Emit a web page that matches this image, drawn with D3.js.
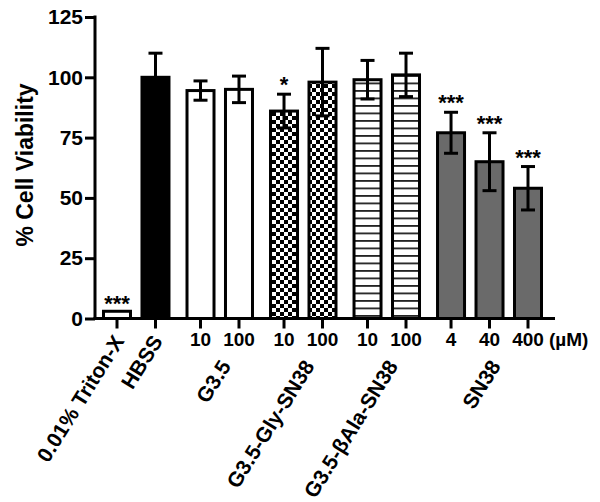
<!DOCTYPE html>
<html>
<head>
<meta charset="utf-8">
<script src="https://cdn.jsdelivr.net/npm/d3@7"></script>
<style>
  body { margin: 0; background: #fff; }
  text { font-family: "Liberation Sans", Arial, Helvetica, sans-serif; font-weight: bold; }
</style>
</head>
<body>
<script>
var width = 600,
    height = 502;

// data
var groups = ["0.01% Triton-X", "HBSS", "G3.5", "G3.5-Gly-SN38", "G3.5-\u03B2Ala-SN38", "SN38"];
var barGroup = [0, 1, 2, 2, 3, 3, 4, 4, 5, 5, 5];
var gapIndex = [0, 0, 1, 1, 2, 2, 3, 3, 4, 4, 4];
var doses = ["", "", "10", "100", "10", "100", "10", "100", "4", "40", "400"];
var means = [3, 100, 94.5, 95, 86, 98, 99, 101, 77, 65, 54];
var errs = [0, 10, 4, 5.5, 7, 14, 8, 9, 8.5, 12, 9];
var stars = ["***", "", "", "", "*", "", "", "", "***", "***", "***"];
var fills = ["white", "black", "white", "white", "url(#checker)", "url(#checker)", "url(#hlines)", "url(#hlines)", "#6a6a6a", "#6a6a6a", "#6a6a6a"];
var yTicks = [0, 25, 50, 75, 100, 125];

var svg = d3.select("body").append("svg")
    .attr("width", width)
    .attr("height", height);

var defs = svg.append("defs");

// checkerboard for the Gly conjugate
var chk = defs.append("pattern")
    .attr("id", "checker")
    .attr("patternUnits", "userSpaceOnUse")
    .attr("width", 8).attr("height", 8);
chk.append("rect").attr("width", 8).attr("height", 8).attr("fill", "white");
chk.append("rect").attr("width", 4).attr("height", 4).attr("fill", "black");
chk.append("rect").attr("x", 4).attr("y", 4).attr("width", 4).attr("height", 4).attr("fill", "black");

// horizontal stripes for the bAla conjugate
var hl = defs.append("pattern")
    .attr("id", "hlines")
    .attr("patternUnits", "userSpaceOnUse")
    .attr("width", 8).attr("height", 7.5);
hl.append("rect").attr("width", 8).attr("height", 7.5).attr("fill", "white");
hl.append("rect").attr("y", 0).attr("width", 8).attr("height", 1.8).attr("fill", "#222");

var y = d3.scaleLinear()
    .domain([0, 125])
    .range([318.5, 17]);

var slot = means.map(function(d, i) { return i + 0.17 * gapIndex[i]; });
var x = d3.scaleLinear()
    .domain([0, slot[slot.length - 1]])
    .range([117, 528]);

var barW = 27;

// bars
svg.selectAll(".bar")
    .data(means)
    .enter().append("rect")
    .attr("class", "bar")
    .attr("x", function(d, i) { return x(slot[i]) - barW / 2; })
    .attr("y", function(d) { return y(d); })
    .attr("width", barW)
    .attr("height", function(d) { return y(0) - y(d); })
    .attr("fill", function(d, i) { return fills[i]; })
    .attr("stroke", "black")
    .attr("stroke-width", 3);

// error bars
var eb = svg.selectAll(".err")
    .data(means.map(function(d, i) { return {m: d, e: errs[i], i: i}; }).filter(function(d) { return d.e > 0; }))
    .enter().append("g")
    .attr("class", "err")
    .attr("stroke", "black")
    .attr("stroke-width", 3);
eb.append("line")
    .attr("x1", function(d) { return x(slot[d.i]); })
    .attr("x2", function(d) { return x(slot[d.i]); })
    .attr("y1", function(d) { return y(d.m - d.e); })
    .attr("y2", function(d) { return y(d.m + d.e); });
[1, -1].forEach(function(s) {
    eb.append("line")
        .attr("x1", function(d) { return x(slot[d.i]) - 7; })
        .attr("x2", function(d) { return x(slot[d.i]) + 7; })
        .attr("y1", function(d) { return y(d.m + s * d.e); })
        .attr("y2", function(d) { return y(d.m + s * d.e); });
});

// significance stars
svg.selectAll(".star")
    .data(stars)
    .enter().append("text")
    .attr("class", "star")
    .attr("x", function(d, i) { return x(slot[i]); })
    .attr("y", function(d, i) { return y(means[i] + errs[i]) - (errs[i] ? 2 : 0); })
    .attr("text-anchor", "middle")
    .style("font-size", "22px")
    .text(function(d) { return d; });

// y axis
var yAxis = d3.axisLeft(y)
    .tickValues(yTicks)
    .tickSize(10)
    .tickPadding(2);
var gy = svg.append("g")
    .attr("transform", "translate(95,0)")
    .call(yAxis);
gy.select(".domain").attr("stroke-width", 3).attr("d", "M0," + (y(125) - 1.5) + "V" + (y(0) + 1.5));
gy.selectAll(".tick line").attr("stroke-width", 3);
gy.selectAll(".tick text")
    .style("font-size", "21px")
    .style("font-family", "'Liberation Sans', Arial, sans-serif")
    .style("font-weight", "bold")
    .attr("fill", "black");

// x axis line and ticks
var gx = svg.append("g").attr("class", "xaxis");
gx.append("line")
    .attr("x1", 93.5).attr("x2", 555)
    .attr("y1", y(0)).attr("y2", y(0))
    .attr("stroke", "black").attr("stroke-width", 3);
gx.selectAll(".xt")
    .data(slot)
    .enter().append("line")
    .attr("class", "xt")
    .attr("x1", function(d) { return x(d); })
    .attr("x2", function(d) { return x(d); })
    .attr("y1", y(0))
    .attr("y2", y(0) + 10)
    .attr("stroke", "black").attr("stroke-width", 3);

gx.selectAll(".dose")
    .data(doses)
    .enter().append("text")
    .attr("class", "dose")
    .attr("x", function(d, i) { return x(slot[i]); })
    .attr("y", 346)
    .attr("text-anchor", "middle")
    .style("font-size", "19px")
    .text(function(d) { return d; });

gx.append("text")
    .attr("x", 549)
    .attr("y", 346)
    .style("font-size", "19px")
    .text("(\u00B5M)");

// group labels, rotated
var groupCenters = groups.map(function(g, k) {
    var xs = slot.filter(function(s, i) { return barGroup[i] === k; }).map(x);
    return d3.mean(xs);
});
gx.selectAll(".grp")
    .data(groups)
    .enter().append("text")
    .attr("class", "grp")
    .attr("text-anchor", "end")
    .style("font-size", "21px")
    .attr("transform", function(d, k) {
        var px = groupCenters[k] + (k < 2 ? 8 : 12);
        var py = k < 2 ? 341 : 366;
        return "translate(" + px + "," + py + ") rotate(-58)";
    })
    .text(function(d) { return d; });

// y axis title
svg.append("text")
    .attr("transform", "translate(33,165) rotate(-90)")
    .attr("text-anchor", "middle")
    .style("font-size", "23px")
    .text("% Cell Viability");
</script>
</body>
</html>
